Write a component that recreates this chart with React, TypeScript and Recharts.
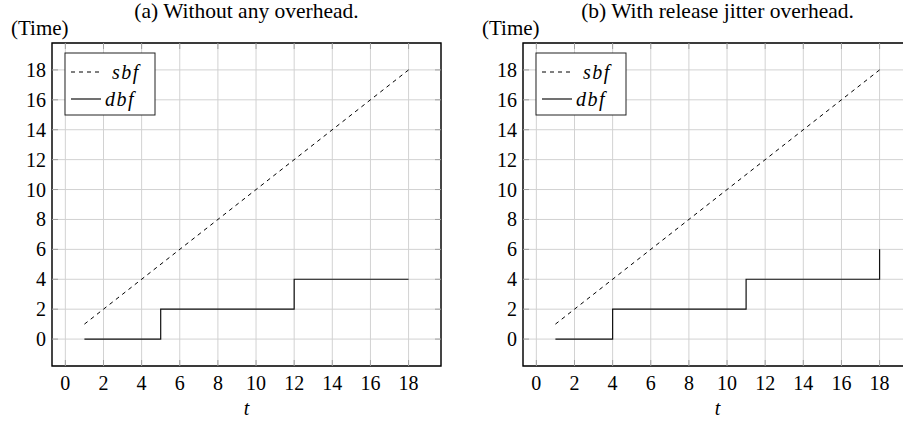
import React from 'react';
import { LineChart, Line, XAxis, YAxis, CartesianGrid, ReferenceArea } from 'recharts';

// ---- data ----
const xTicks = [0, 2, 4, 6, 8, 10, 12, 14, 16, 18];
const yTicks = [0, 2, 4, 6, 8, 10, 12, 14, 16, 18];
const sbfT = [1, 18];
const sbfV = [1, 18];
const dbfAT = [1, 5, 12, 18];
const dbfAV = [0, 2, 4, 4];
const dbfBT = [1, 4, 11, 18, 18];
const dbfBV = [0, 2, 4, 4, 6];
const titles = ['(a) Without any overhead.', '(b) With release jitter overhead.'];
const yLabel = '(Time)';
const xLabel = 't';
const legendNames = ['sbf', 'dbf'];

const X_DOMAIN: [number, number] = [-0.7, 19.7];
const Y_DOMAIN: [number, number] = [-1.8, 19.8];

// ---- layout ----
const W = 460;
const H = 423;
const PL = 52;
const PT = 43;
const PW = 389;
const PH = 323;
const FONT = 'Liberation Serif, Times New Roman, Times, serif';
const GRID = '#d2d2d2';
const TICK = '#a0a0a0';
const TXT: React.CSSProperties = { fontFamily: FONT, fontSize: 20 };
const TITLE: React.CSSProperties = { fontFamily: FONT, fontSize: 21.5 };
const LAB: React.CSSProperties = { fontFamily: FONT, fontSize: 21 };
const ITXT: React.CSSProperties = { fontFamily: FONT, fontSize: 20, fontStyle: 'italic' };

const zip = (t: number[], v: number[]) => t.map((x, i) => ({ t: x, v: v[i] }));

const XTick = (props: any) => {
  const { x, y, payload } = props;
  return (
    <g>
      <line x1={x} x2={x} y1={y} y2={y - 6} stroke={TICK} strokeWidth={1} />
      <line x1={x} x2={x} y1={PT} y2={PT + 6} stroke={TICK} strokeWidth={1} />
      <text x={x} y={y + 24} textAnchor="middle" style={TXT} fill="#000">
        {payload.value}
      </text>
    </g>
  );
};

const YTick = (props: any) => {
  const { x, y, payload } = props;
  return (
    <g>
      <line x1={x} x2={x + 6} y1={y} y2={y} stroke={TICK} strokeWidth={1} />
      <line x1={PL + PW - 6} x2={PL + PW} y1={y} y2={y} stroke={TICK} strokeWidth={1} />
      <text x={x - 6} y={y + 7} textAnchor="end" style={TXT} fill="#000">
        {payload.value}
      </text>
    </g>
  );
};

const Panel = ({ left, title, dT, dV }: { left: number; title: string; dT: number[]; dV: number[] }) => {
  const sbf = zip(sbfT, sbfV);
  const dbf = zip(dT, dV);
  const lx = PL + 13;
  const ly = 53;
  return (
    <div style={{ position: 'absolute', left, top: 0, width: W, height: H }}>
      <LineChart width={W} height={H} margin={{ top: PT, right: W - PL - PW, bottom: 0, left: 0 }}>
        <CartesianGrid stroke={GRID} strokeWidth={1} />
        <XAxis
          type="number"
          dataKey="t"
          domain={X_DOMAIN}
          ticks={xTicks}
          allowDataOverflow
          height={H - PT - PH}
          axisLine={false}
          tickLine={false}
          tickSize={0}
          tickMargin={0}
          tick={<XTick />}
          interval={0}
        />
        <YAxis
          type="number"
          dataKey="v"
          domain={Y_DOMAIN}
          ticks={yTicks}
          allowDataOverflow
          width={PL}
          axisLine={false}
          tickLine={false}
          tickSize={0}
          tickMargin={0}
          tick={<YTick />}
          interval={0}
        />
        <ReferenceArea
          x1={X_DOMAIN[0]}
          x2={X_DOMAIN[1]}
          y1={Y_DOMAIN[0]}
          y2={Y_DOMAIN[1]}
          fill="none"
          stroke="#000"
          strokeWidth={1.4}
          ifOverflow="visible"
        />
        <Line
          data={sbf}
          dataKey="v"
          type="linear"
          stroke="#000"
          strokeWidth={1}
          strokeDasharray="4 4"
          dot={false}
          isAnimationActive={false}
        />
        <Line
          data={dbf}
          dataKey="v"
          type="stepAfter"
          stroke="#111"
          strokeWidth={1.2}
          dot={false}
          isAnimationActive={false}
        />
      </LineChart>
      <svg width={W} height={H} style={{ position: 'absolute', left: 0, top: 0, pointerEvents: 'none' }}>
        <text x={PL + PW / 2} y={18} textAnchor="middle" style={TITLE} fill="#000">
          {title}
        </text>
        <text x={11} y={35} textAnchor="start" style={LAB} fill="#000">
          {yLabel}
        </text>
        <text x={PL + PW / 2} y={415} textAnchor="middle" style={ITXT} fill="#000">
          {xLabel}
        </text>
        <rect x={lx} y={ly} width={90} height={62} fill="#fff" stroke="#222" strokeWidth={1} />
        <line x1={lx + 6} x2={lx + 36} y1={ly + 19} y2={ly + 19} stroke="#000" strokeWidth={1} strokeDasharray="4 4" />
        <text x={lx + 47} y={ly + 26} style={ITXT} letterSpacing={1.5} fill="#000">
          {legendNames[0]}
        </text>
        <line x1={lx + 6} x2={lx + 36} y1={ly + 46} y2={ly + 46} stroke="#111" strokeWidth={1.2} />
        <text x={lx + 40} y={ly + 53} style={ITXT} letterSpacing={1.5} fill="#000">
          {legendNames[1]}
        </text>
      </svg>
    </div>
  );
}

export default function App() {
  return (
    <div style={{ position: 'absolute', left: 0, top: 0, width: 903, height: 423, overflow: 'hidden', background: '#fff' }}>
      <Panel left={0} title={titles[0]} dT={dbfAT} dV={dbfAV} />
      <Panel left={471} title={titles[1]} dT={dbfBT} dV={dbfBV} />
    </div>
  );
}
